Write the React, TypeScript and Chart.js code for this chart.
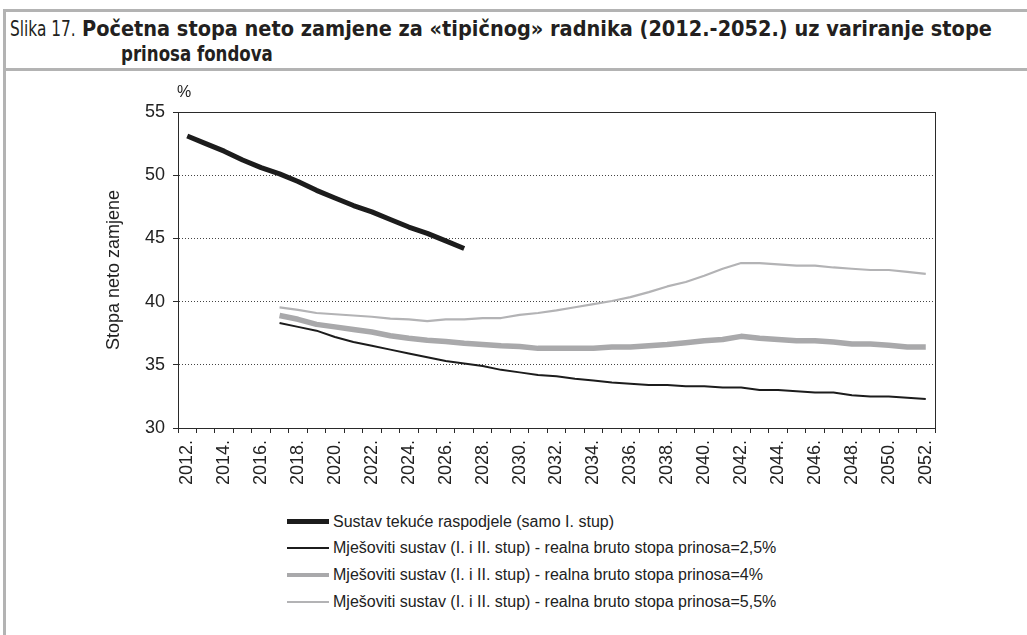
import React, { useEffect, useLayoutEffect, useRef } from "react";
import { Chart, registerables } from "chart.js";

Chart.register(...registerables);

const YEARS = [
  "2012.", "2013.", "2014.", "2015.", "2016.", "2017.", "2018.", "2019.", "2020.", "2021.",
  "2022.", "2023.", "2024.", "2025.", "2026.", "2027.", "2028.", "2029.", "2030.", "2031.",
  "2032.", "2033.", "2034.", "2035.", "2036.", "2037.", "2038.", "2039.", "2040.", "2041.",
  "2042.", "2043.", "2044.", "2045.", "2046.", "2047.", "2048.", "2049.", "2050.", "2051.",
  "2052.",
];

// Sustav tekuće raspodjele, 2012.-2027.
const PAYG = [53.1, 52.5, 51.9, 51.2, 50.6, 50.1, 49.5, 48.8, 48.2, 47.6, 47.1, 46.5, 45.9, 45.4, 44.8, 44.2];
const PAYG_START = 0;

// Mješoviti sustav, 2017.-2052.
const MIX_25 = [
  38.3, 38.0, 37.7, 37.2, 36.8, 36.5, 36.2, 35.9, 35.6, 35.3,
  35.1, 34.9, 34.6, 34.4, 34.2, 34.1, 33.9, 33.75, 33.6, 33.5,
  33.4, 33.4, 33.3, 33.3, 33.2, 33.2, 33.0, 33.0, 32.9, 32.8,
  32.8, 32.6, 32.5, 32.5, 32.4, 32.3,
];
const MIX_4 = [
  38.9, 38.6, 38.2, 38.0, 37.8, 37.6, 37.3, 37.1, 36.95, 36.85,
  36.7, 36.6, 36.5, 36.45, 36.3, 36.3, 36.3, 36.3, 36.4, 36.4,
  36.5, 36.6, 36.75, 36.9, 37.0, 37.25, 37.1, 37.0, 36.9, 36.9,
  36.8, 36.65, 36.65, 36.55, 36.4, 36.4,
];
const MIX_55 = [
  39.55, 39.35, 39.1, 39.0, 38.9, 38.8, 38.65, 38.6, 38.45, 38.6,
  38.6, 38.7, 38.7, 38.95, 39.1, 39.3, 39.55, 39.8, 40.05, 40.35,
  40.75, 41.2, 41.55, 42.05, 42.6, 43.05, 43.05, 42.95, 42.85, 42.85,
  42.7, 42.6, 42.5, 42.5, 42.35, 42.2,
];
const MIX_START = 5;

const SERIES_LABELS = [
  "Sustav tekuće raspodjele (samo I. stup)",
  "Mješoviti sustav (I. i II. stup) - realna bruto stopa prinosa=2,5%",
  "Mješoviti sustav (I. i II. stup) - realna bruto stopa prinosa=4%",
  "Mješoviti sustav (I. i II. stup) - realna bruto stopa prinosa=5,5%",
];
const SERIES_COLORS = ["#1c1c1c", "#1c1c1c", "#a9a9ab", "#b3b3b5"];
const SERIES_WIDTHS = [5, 2, 5.5, 2.2];
const LEGEND_WIDTHS = [5, 2, 4.5, 2];

const Y_MIN = 30;
const Y_MAX = 55;
const Y_STEP = 5;

const TITLE_LABEL = "Slika 17.";
const TITLE_LINE1 = "Početna stopa neto zamjene za «tipičnog» radnika (2012.-2052.) uz variranje stope";
const TITLE_LINE2 = "prinosa fondova";
const Y_TITLE = "Stopa neto zamjene";
const Y_UNIT = "%";

function pad(values: number[], start: number): (number | null)[] {
  const out: (number | null)[] = YEARS.map(() => null);
  values.forEach((v, i) => {
    out[start + i] = v;
  });
  return out;
}

const FONT = "'Liberation Sans', Arial, Helvetica, sans-serif";
const TITLE_FONT = "'DejaVu Sans Condensed', 'DejaVu Sans', sans-serif";

const framePlugin = {
  id: "frameAndUnit",
  afterDraw(chart: any) {
    const { ctx, chartArea } = chart;
    ctx.save();
    ctx.strokeStyle = "#2a2a2a";
    ctx.lineWidth = 1;
    ctx.setLineDash([]);
    ctx.strokeRect(
      Math.round(chartArea.left) + 0.5,
      Math.round(chartArea.top) + 0.5,
      Math.round(chartArea.right - chartArea.left),
      Math.round(chartArea.bottom - chartArea.top)
    );
    ctx.fillStyle = "#222";
    ctx.font = `16px ${FONT}`;
    ctx.textAlign = "left";
    ctx.textBaseline = "middle";
    ctx.fillText(Y_UNIT, chartArea.left - 1, chartArea.top - 19);
    ctx.restore();
  },
};

function FitText(props: { text: string; left: number; top: number; width: number; weight: number }) {
  const ref = useRef<HTMLSpanElement | null>(null);
  useLayoutEffect(() => {
    const el = ref.current;
    if (!el) return;
    const w = el.offsetWidth;
    if (w > 0) el.style.transform = `scaleX(${props.width / w})`;
  }, [props.text, props.width]);
  return (
    <span
      ref={ref}
      style={{
        position: "absolute",
        left: props.left,
        top: props.top,
        display: "inline-block",
        whiteSpace: "nowrap",
        fontFamily: TITLE_FONT,
        fontSize: 22,
        lineHeight: "24px",
        fontWeight: props.weight,
        color: "#231f20",
        transformOrigin: "0 0",
      }}
    >
      {props.text}
    </span>
  );
}

export default function App() {
  const ref = useRef<HTMLCanvasElement | null>(null);

  useEffect(() => {
    if (!ref.current) return;
    const series = [pad(PAYG, PAYG_START), pad(MIX_25, MIX_START), pad(MIX_4, MIX_START), pad(MIX_55, MIX_START)];
    const chart = new Chart(ref.current, {
      type: "line",
      data: {
        labels: YEARS,
        datasets: series.map((d, i) => ({
          label: SERIES_LABELS[i],
          data: d,
          borderColor: SERIES_COLORS[i],
          backgroundColor: SERIES_COLORS[i],
          borderWidth: SERIES_WIDTHS[i],
          pointRadius: 0,
          tension: 0,
          spanGaps: false,
          borderJoinStyle: "round" as const,
          borderCapStyle: "butt" as const,
        })),
      },
      options: {
        animation: false,
        responsive: false,
        devicePixelRatio: 1,
        layout: { padding: { left: 103, right: 92, top: 37, bottom: 0 } },
        plugins: { legend: { display: false }, tooltip: { enabled: false } },
        scales: {
          x: {
            type: "category",
            offset: true,
            afterFit: (s: any) => {
              s.height = 72;
            },
            grid: {
              offset: true,
              drawOnChartArea: false,
              drawTicks: true,
              tickLength: 5,
              color: "#2a2a2a",
              tickColor: "#2a2a2a",
            },
            border: { display: true, color: "#2a2a2a", width: 1 },
            ticks: {
              autoSkip: false,
              maxRotation: 90,
              minRotation: 90,
              padding: 7,
              color: "#222",
              font: { family: FONT, size: 18 },
              callback: (_v: any, i: number) => (i % 2 === 0 ? YEARS[i] : ""),
            },
          },
          y: {
            min: Y_MIN,
            max: Y_MAX,
            afterFit: (s: any) => {
              s.width = 75;
            },
            grid: {
              drawOnChartArea: true,
              drawTicks: true,
              tickLength: 5,
              color: (c: any) =>
                c.tick && (c.tick.value === Y_MIN || c.tick.value === Y_MAX) ? "rgba(0,0,0,0)" : "#444",
              tickColor: "#2a2a2a",
              tickBorderDash: [],
            },
            border: { display: true, color: "#2a2a2a", width: 1, dash: [1, 2] },
            ticks: {
              stepSize: Y_STEP,
              padding: 8,
              color: "#222",
              font: { family: FONT, size: 18 },
            },
            title: {
              display: true,
              text: Y_TITLE,
              color: "#222",
              padding: 0,
              font: { family: FONT, size: 18 },
            },
          },
        },
      },
      plugins: [framePlugin],
    });
    return () => chart.destroy();
  }, []);

  const rowTops = [521.5, 548.3, 575.2, 601.7];

  return (
    <div
      style={{
        position: "absolute",
        left: 0,
        top: 0,
        width: 1027,
        height: 635,
        background: "#fff",
        overflow: "hidden",
        fontFamily: FONT,
        color: "#222",
      }}
    >
      {/* frame lines */}
      <div style={{ position: "absolute", left: 3, top: 9, width: 3, height: 626, background: "#b3b3b3" }} />
      <div style={{ position: "absolute", left: 3, top: 9, width: 1024, height: 3, background: "#b3b3b3" }} />
      <div style={{ position: "absolute", left: 3, top: 68, width: 1024, height: 3, background: "#b3b3b3" }} />

      {/* title */}
      <FitText text={TITLE_LABEL} left={10} top={17} width={66} weight={400} />
      <FitText text={TITLE_LINE1} left={82} top={17} width={910} weight={700} />
      <FitText text={TITLE_LINE2} left={121} top={42} width={152} weight={700} />

      <canvas
        ref={ref}
        width={1027}
        height={425}
        style={{ position: "absolute", left: 0, top: 75, width: 1027, height: 425 }}
      />

      {/* legend */}
      {SERIES_LABELS.map((lab, i) => (
        <div
          key={i}
          style={{
            position: "absolute",
            left: 287,
            top: rowTops[i] - 10,
            height: 20,
            display: "flex",
            alignItems: "center",
            whiteSpace: "nowrap",
            fontSize: 16,
          }}
        >
          <div style={{ width: 42, height: LEGEND_WIDTHS[i], background: SERIES_COLORS[i], marginRight: 4 }} />
          <span>{lab}</span>
        </div>
      ))}
    </div>
  );
}
